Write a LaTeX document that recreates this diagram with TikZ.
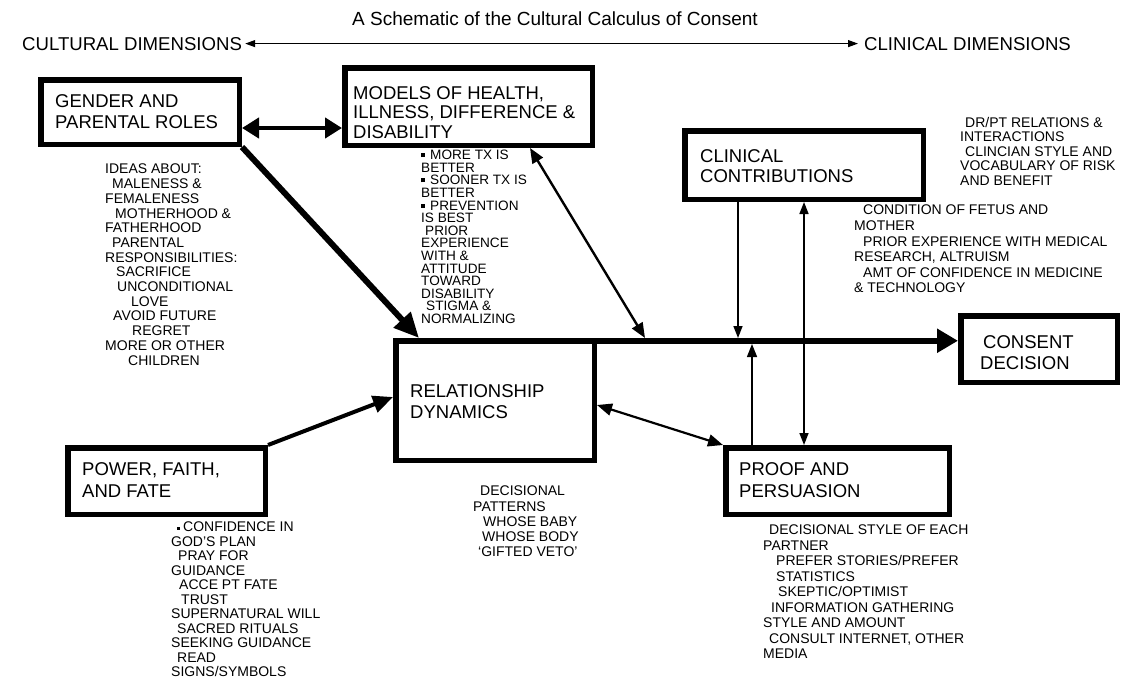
\documentclass[tikz,border=0pt]{standalone}
\usepackage{fontspec}
\setmainfont{Liberation Sans}
\usetikzlibrary{arrows.meta,calc}
\begin{document}
\begin{tikzpicture}[x=1pt,y=-1pt,
  box/.style={draw,rectangle,line width=5.5pt,inner sep=0pt,outer sep=2.75pt},
  boxtext/.style={font=\fontsize{18.5}{21.5}\selectfont,align=left,inner sep=0pt,anchor=north west},
  note/.style={font=\fontsize{14}{14.7}\selectfont,align=left,inner sep=0pt,anchor=north west},
  headline/.style={font=\fontsize{18.6}{22}\selectfont,inner sep=0pt,anchor=base west},
  dimarrow/.style={line width=1.1pt,{Triangle[length=10pt,width=7pt]}-{Triangle[length=10pt,width=7pt]}},
  mainflow/.style={line width=6pt,-{Triangle[length=21pt,width=23pt]}},
  heavylink/.style={line width=4.5pt,{Triangle[length=17pt,width=20pt]}-{Triangle[length=17pt,width=20pt]}},
  heavyflow/.style={line width=6pt,-{Triangle[length=25pt,width=22pt]}},
  midflow/.style={line width=4pt,-{Triangle[length=20pt,width=17pt]}},
  midlink/.style={line width=2.4pt,{Triangle[length=15pt,width=12pt]}-{Triangle[length=15pt,width=12pt]}},
  thinflow/.style={line width=1.5pt,-{Triangle[length=12pt,width=9pt]}},
  thinlink/.style={line width=1.5pt,{Triangle[length=12pt,width=9pt]}-{Triangle[length=12pt,width=9pt]}}
]
\useasboundingbox (0,0) rectangle (1124,678);

% heading and the cultural/clinical axis
\node[font=\fontsize{19}{22}\selectfont,inner sep=0pt,anchor=base west] (title) at (352,25)
  {A Schematic of the Cultural Calculus of Consent};
\node[headline] (culdim) at (22,50) {CULTURAL DIMENSIONS};
\node[headline] (clidim) at (864,50) {CLINICAL DIMENSIONS};
\draw[dimarrow] ([xshift=3pt]culdim.east) -- ([xshift=-6pt]clidim.west);

% framed factors
\node[box,minimum width=198.5pt,minimum height=64.5pt] (gender) at (140,112) {};
\node[box,minimum width=247.5pt,minimum height=77.5pt] (models) at (468.5,106.5) {};
\node[box,minimum width=238.5pt,minimum height=68.5pt] (clinical) at (804,165) {};
\node[box,minimum width=198.5pt,minimum height=119.5pt] (rel) at (495,400.5) {};
\node[box,minimum width=197.5pt,minimum height=66.5pt] (power) at (166.5,481) {};
\node[box,minimum width=223.5pt,minimum height=66.5pt] (proof) at (837.5,481) {};
\node[box,minimum width=156.5pt,minimum height=66.5pt] (consent) at (1039,349) {};

\node[boxtext] (gendertxt) at (55,94) {GENDER AND\\PARENTAL ROLES};
\node[boxtext,font=\fontsize{18.5}{19.5}\selectfont] (modelstxt) at (353,86) {MODELS OF HEALTH,\\ILLNESS, DIFFERENCE \&\\DISABILITY};
\node[boxtext,font=\fontsize{18.5}{20}\selectfont] (clinicaltxt) at (700,149) {CLINICAL\\CONTRIBUTIONS};
\node[boxtext] (reltxt) at (410,384) {RELATIONSHIP\\DYNAMICS};
\node[boxtext,font=\fontsize{18.5}{22}\selectfont] (powertxt) at (82,462) {POWER, FAITH,\\AND FATE};
\node[boxtext,font=\fontsize{18.5}{22}\selectfont] (prooftxt) at (739,462) {PROOF AND\\PERSUASION};
\node[boxtext,font=\fontsize{18.5}{21}\selectfont] (consenttxt) at (980,335) {\hspace*{3pt}CONSENT\\DECISION};

% annotations
\node[note] (gendernotes) at (105,164) {IDEAS ABOUT:\\
  \hspace*{7pt}MALENESS \&\\
  FEMALENESS\\
  \hspace*{10pt}MOTHERHOOD \&\\
  FATHERHOOD\\
  \hspace*{7pt}PARENTAL\\
  RESPONSIBILITIES:\\
  \hspace*{11pt}SACRIFICE\\
  \hspace*{12pt}UNCONDITIONAL\\
  \hspace*{26pt}LOVE\\
  \hspace*{8pt}AVOID FUTURE\\
  \hspace*{27pt}REGRET\\
  MORE OR OTHER\\
  \hspace*{23pt}CHILDREN};

\node[note,font=\fontsize{13.6}{12.6}\selectfont] (modelsnotes) at (421,150) {%
  \rule[2.5pt]{4pt}{4pt}\hspace{5pt}MORE TX IS\\
  BETTER\\
  \rule[2.5pt]{4pt}{4pt}\hspace{5pt}SOONER TX IS\\
  BETTER\\
  \rule[2.5pt]{4pt}{4pt}\hspace{5pt}PREVENTION\\
  IS BEST\\
  \hspace*{4pt}PRIOR\\
  EXPERIENCE\\
  WITH \&\\
  ATTITUDE\\
  TOWARD\\
  DISABILITY\\
  \hspace*{5pt}STIGMA \&\\
  NORMALIZING};

\node[note,font=\fontsize{14}{14.5}\selectfont] (clinicalnotes) at (960,117) {%
  \hspace*{5pt}DR/PT RELATIONS \&\\
  INTERACTIONS\\
  \hspace*{5pt}CLINCIAN STYLE AND\\
  VOCABULARY OF RISK\\
  AND BENEFIT};

\node[note,font=\fontsize{14}{15.6}\selectfont] (fetusnotes) at (854,205) {%
  \hspace*{9pt}CONDITION OF FETUS AND\\
  MOTHER\\
  \hspace*{9pt}PRIOR EXPERIENCE WITH MEDICAL\\
  RESEARCH, ALTRUISM\\
  \hspace*{9pt}AMT OF CONFIDENCE IN MEDICINE\\
  \& TECHNOLOGY};

\node[note,font=\fontsize{14}{15.2}\selectfont] (relnotes) at (473,486) {%
  \hspace*{7pt}DECISIONAL\\
  PATTERNS\\
  \hspace*{10pt}WHOSE BABY\\
  \hspace*{9pt}WHOSE BODY\\
  \hspace*{5pt}`GIFTED VETO'};

\node[note,font=\fontsize{14}{14.5}\selectfont] (powernotes) at (171,522) {%
  \hspace*{6pt}\rule[2pt]{2.5pt}{2.5pt}\hspace{3.5pt}CONFIDENCE IN\\
  GOD'S PLAN\\
  \hspace*{7pt}PRAY FOR\\
  GUIDANCE\\
  \hspace*{8pt}ACCE PT FATE\\
  \hspace*{10pt}TRUST\\
  SUPERNATURAL WILL\\
  \hspace*{6pt}SACRED RITUALS\\
  SEEKING GUIDANCE\\
  \hspace*{6pt}READ\\
  SIGNS/SYMBOLS};

\node[note,font=\fontsize{14}{15.5}\selectfont] (proofnotes) at (763,525) {%
  \hspace*{6pt}DECISIONAL STYLE OF EACH\\
  PARTNER\\
  \hspace*{13pt}PREFER STORIES/PREFER\\
  \hspace*{13pt}STATISTICS\\
  \hspace*{15pt}SKEPTIC/OPTIMIST\\
  \hspace*{8pt}INFORMATION GATHERING\\
  STYLE AND AMOUNT\\
  \hspace*{6pt}CONSULT INTERNET, OTHER\\
  MEDIA};

% the main decision line along the top of the relationship box
\coordinate (mainstart) at ([yshift=-2.75pt]rel.north east);
\coordinate (mainend) at (consent.west |- mainstart);
\coordinate (mainhit) at (645,338);
\coordinate (clinhit) at (738,338);
\coordinate (proofhit) at (752,344);
\draw[mainflow] (mainstart) -- (mainend);

% connectors between factors
\draw[heavylink] (gender.east |- 0,128) -- (models.west |- 0,128);
\draw[heavyflow] (gender.south east) -- ([xshift=26pt]rel.north west);
\draw[midlink] ([xshift=188pt]models.south west) -- (mainhit);
\draw[midflow] (power.north east) -- (rel.west |- 0,397);
\draw[midlink,line width=2.2pt] (rel.east |- 0,405) -- (proof.north west);
\draw[thinflow] (clinical.south -| clinhit) -- (clinhit);
\draw[thinflow,-{Triangle[length=13pt,width=10pt]}] (proof.north -| proofhit) -- (proofhit);
\draw[thinlink] (clinical.south) -- (proof.north -| clinical.south);
\end{tikzpicture}
\end{document}
